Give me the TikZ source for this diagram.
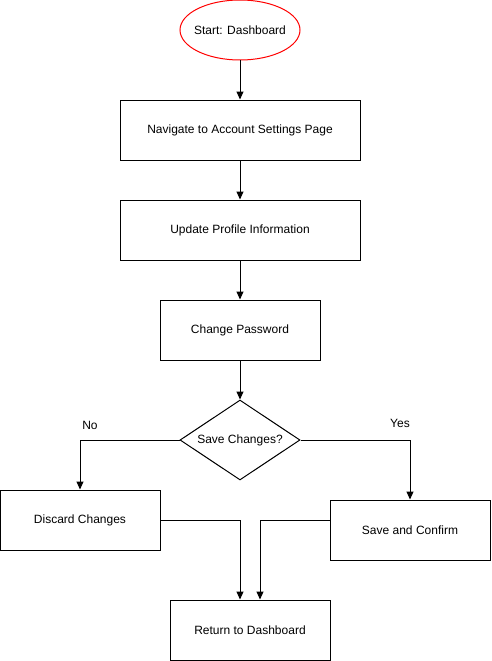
\documentclass[tikz,border=0pt]{standalone}
\usepackage{fontspec}
\setmainfont{Liberation Sans}
\usetikzlibrary{arrows.meta,shapes.geometric}

\tikzset{
  box/.style={draw,rectangle,inner sep=0pt,minimum width=#1,minimum height=60pt},
  box/.default=240pt,
  startnode/.style={draw=red,ellipse,inner xsep=-8pt,inner ysep=0pt,minimum width=120pt,minimum height=60pt},
  decision/.style={draw,diamond,shape aspect=1.5,inner sep=0pt,minimum width=120pt,minimum height=80pt},
  lbl/.style={inner sep=0pt}
}

\begin{document}
\begin{tikzpicture}[x=1pt,y=-1pt,line width=1pt,>={Triangle[length=8pt,width=7pt]},
  font=\fontsize{12}{14}\selectfont]

\useasboundingbox (0,0) rectangle (491,661);

% NODES

% Start and main steps.
\node[startnode] (start) at (240,30) {Start: Dashboard};
\node[box] (navigate) at (240,130) {Navigate to Account Settings Page};
\node[box] (profile) at (240,230) {Update Profile Information};
\node[box=160pt] (password) at (240,330) {Change Password};

% Decision.
\node[decision] (save?) at (240,440) {Save Changes?};

% Branches.
\node[box=160pt] (discard) at (80,520) {Discard Changes};
\node[box=160pt] (confirm) at (410,530) {Save and Confirm};
\node[box=160pt] (return) at (250,630) {Return to Dashboard};

% Branch labels.
\node[lbl] (no) at (90,425) {No};
\node[lbl] (yes) at (400,423) {Yes};

% CONNECTIONS

\draw[->] (start) -- (navigate);
\draw[->] (navigate) -- (profile);
\draw[->] (profile) -- (password);
\draw[->] (password) -- (save?);

% Decision -> branches.
\draw[->] (save?.west) -| (discard.north);
\draw[->] (save?.east) -| (confirm.north);

% Branches -> return.
\draw[->] (discard.east) -| ([xshift=-10pt]return.north);
\draw[->] ([yshift=10pt]confirm.west) -| ([xshift=10pt]return.north);

\end{tikzpicture}
\end{document}
